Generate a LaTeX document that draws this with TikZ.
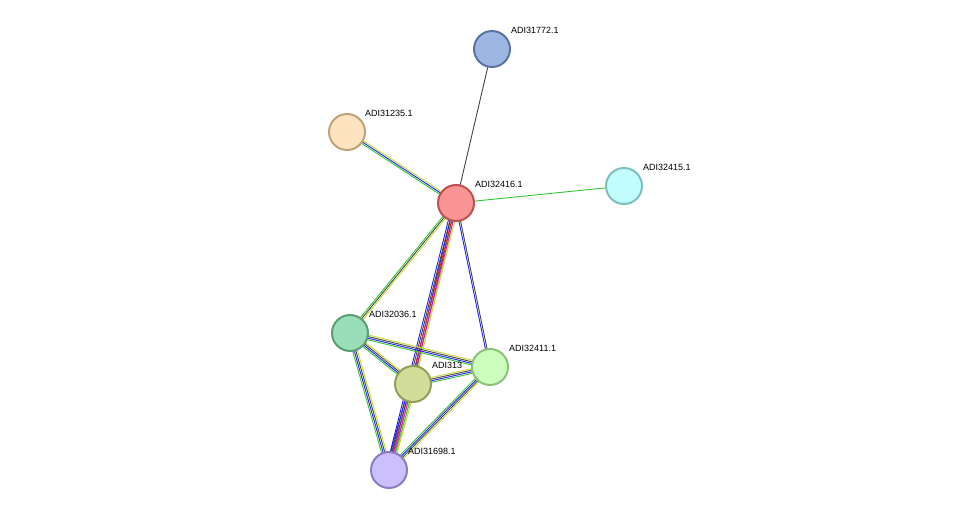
\documentclass[tikz,border=0pt]{standalone}
\usepackage{fontspec}
\setmainfont{Liberation Sans}
\usetikzlibrary{calc}
\definecolor{eg}{HTML}{33C633}\definecolor{eb}{HTML}{2222EE}\definecolor{ek}{HTML}{444444}
\definecolor{ey}{HTML}{C8D830}\definecolor{em}{HTML}{CC22CC}\definecolor{er}{HTML}{DD2222}
\definecolor{fA}{HTML}{9DB6E2}\definecolor{dA}{HTML}{5A74A4}
\definecolor{fB}{HTML}{FDE3C0}\definecolor{dB}{HTML}{C0A27A}
\definecolor{fC}{HTML}{F99595}\definecolor{dC}{HTML}{C05050}
\definecolor{fD}{HTML}{C0FDFC}\definecolor{dD}{HTML}{7FBFC0}
\definecolor{fE}{HTML}{99DEB8}\definecolor{dE}{HTML}{5A9E74}
\definecolor{fF}{HTML}{CCFFBB}\definecolor{dF}{HTML}{8CC07C}
\definecolor{fG}{HTML}{D2DD9A}\definecolor{dG}{HTML}{929E5A}
\definecolor{fH}{HTML}{CBC0FD}\definecolor{dH}{HTML}{8A7DC0}
\newcommand{\medge}[3]{%
  \foreach \c [count=\i] in {#3} {\xdef\ncount{\i}}%
  \foreach \c [count=\i] in {#3} {%
    \pgfmathsetmacro{\off}{(\i-(\ncount+1)/2)*1.6}%
    \draw[\c,line width=0.9pt] ($(#1)!\off pt!90:(#2)$) -- ($(#2)!\off pt!-90:(#1)$);}}
\tikzset{prot/.style={circle,minimum size=36pt,inner sep=0pt,line width=2pt},
lab/.style={font=\fontsize{9pt}{10pt}\selectfont,anchor=south west,inner sep=1pt}}
\begin{document}
\begin{tikzpicture}[x=1pt,y=-1pt]
\useasboundingbox[fill=white] (0,0) rectangle (976,516);
\coordinate (A) at (492,49);\coordinate (B) at (347,132);\coordinate (C) at (456,203);
\coordinate (D) at (624,186);\coordinate (E) at (350,333);\coordinate (F) at (490,367);
\coordinate (G) at (413,384);\coordinate (H) at (389,470);
\medge{A}{C}{ek}
\medge{B}{C}{eg,eb,ey}
\medge{C}{D}{eg}
\medge{C}{E}{eg,ek,ey}
\medge{C}{G}{eb,ek,ey}
\medge{C}{H}{eb,ek,er,em,ey}
\medge{C}{F}{eb,ek}
\medge{E}{F}{eg,eb,ek,ey}
\medge{E}{G}{eg,eb,ek,ey}
\medge{E}{H}{eg,eb,ek,ey}
\medge{G}{F}{eg,eb,ek,ey}
\medge{G}{H}{eb,ek,em,eg,ey}
\medge{F}{H}{eg,eb,ek,ey}
\node[prot,fill=fA,draw=dA] (nA) at (A) {};
\node[lab] at (510,35) {ADI31772.1};
\node[prot,fill=fB,draw=dB] (nB) at (B) {};
\node[lab] at (364,118) {ADI31235.1};
\node[prot,fill=fC,draw=dC] (nC) at (C) {};
\node[lab] at (474,189) {ADI32416.1};
\node[prot,fill=fD,draw=dD] (nD) at (D) {};
\node[lab] at (642,172) {ADI32415.1};
\node[prot,fill=fE,draw=dE] (nE) at (E) {};
\node[lab] at (368,319) {ADI32036.1};
\node[prot,fill=fG,draw=dG] (nG) at (G) {};
\node[lab] at (431,370) {ADI313};
\node[prot,fill=fF,draw=dF] (nF) at (F) {};
\node[lab] at (508,353) {ADI32411.1};
\node[prot,fill=fH,draw=dH] (nH) at (H) {};
\node[lab] at (407,456) {ADI31698.1};
\end{tikzpicture}
\end{document}
